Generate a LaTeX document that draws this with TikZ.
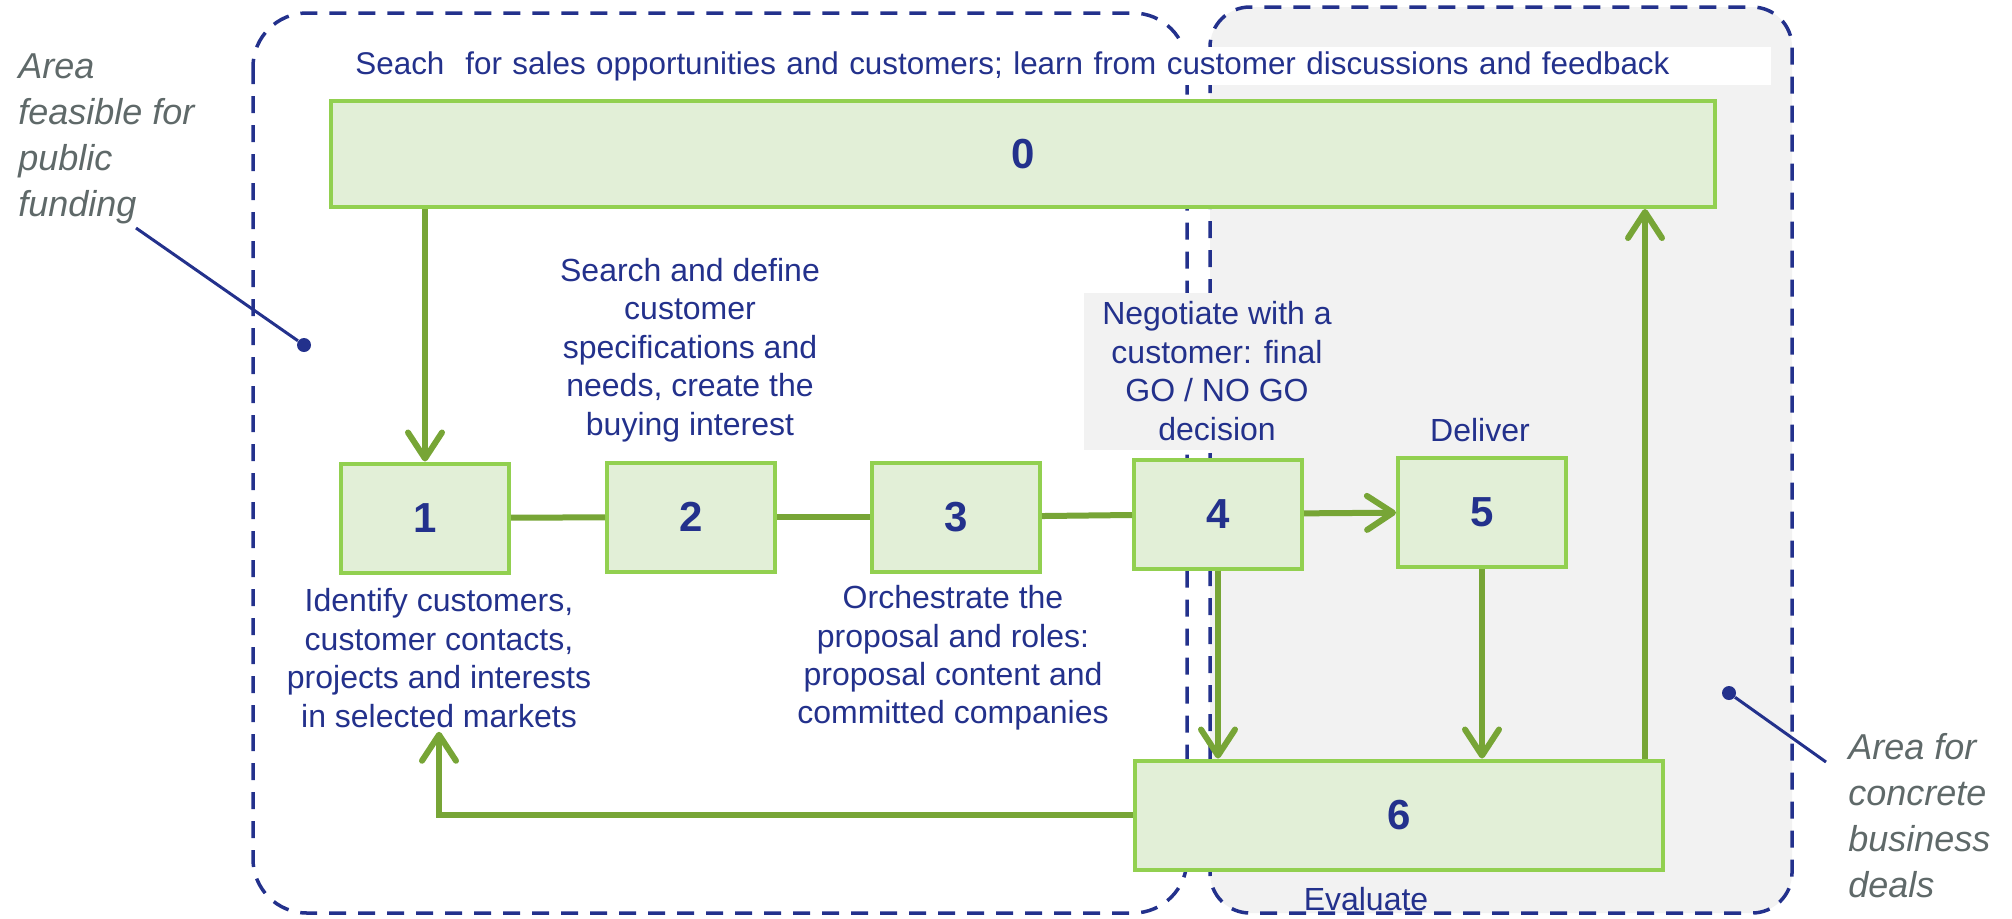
\documentclass[tikz,border=0pt]{standalone}
\usepackage{fontspec}
\setmainfont{Liberation Sans}
\usepackage{tikz}
\usetikzlibrary{arrows.meta}
\definecolor{navy}{RGB}{35,49,140}
\definecolor{flowgreen}{RGB}{119,165,54}
\definecolor{boxgreen}{RGB}{146,208,80}
\definecolor{boxfill}{RGB}{226,239,215}
\definecolor{zonegray}{RGB}{242,242,242}
\definecolor{remarkgray}{RGB}{95,105,105}
\tikzset{>={Straight Barb[length=13pt,width=17pt,round]},
    stage/.style={draw=boxgreen, fill=boxfill, line width=2pt, minimum width=84pt,
      minimum height=54.5pt, text=navy, font=\fontsize{21}{25}\selectfont\bfseries},
    flow/.style={draw=flowgreen, line width=3pt},
    zone/.style={draw=navy, line width=1.75pt, dash pattern=on 8.5pt off 6pt},
    caption/.style={text=navy, align=center, inner sep=2pt, font=\fontsize{16}{19.2}\selectfont},
    remark/.style={text=remarkgray, align=left, inner sep=0pt, font=\fontsize{18}{23}\selectfont\itshape},
    pointer/.style={draw=navy, line width=1.5pt},
    knob/.style={circle, fill=navy, inner sep=0pt, minimum size=7pt}}

\begin{document}
\begin{tikzpicture}[x=0.5pt,y=-0.5pt]
  \useasboundingbox (0,0) rectangle (2012,918);
  % the two areas
  \draw[zone, fill=zonegray, rounded corners=20pt] (1210,7) rectangle (1792,913);
  \draw[zone, rounded corners=27pt] (253,13) rectangle (1187,913);
  \node[caption, fill=white, anchor=west, align=left, text width=703pt, inner xsep=5pt,
    minimum height=19pt, font=\fontsize{15.7}{19}\selectfont] (search) at (345,66)
    {Seach\ \ for sales opportunities and customers; learn from customer discussions and feedback};
  \node[caption, fill=zonegray, minimum width=133pt, minimum height=78.5pt, inner sep=0pt]
    (nego) at (1217,371) {Negotiate with a\\customer: final\\GO / NO GO\\decision};
  % stages
  \node[stage, minimum width=692pt, minimum height=53pt] (b0) at (1023,154) {0};
  \node[stage] (b1) at (425,518) {1};
  \node[stage] (b2) at (691,517) {2};
  \node[stage] (b3) at (956,517) {3};
  \node[stage] (b4) at (1218,514) {4};
  \node[stage] (b5) at (1482,512) {5};
  \node[stage, minimum width=264pt] (b6) at (1399,815) {6};
  \node[caption] (lbl1) at (439,658) {Identify customers,\\customer contacts,\\projects and interests\\in selected markets};
  \node[caption] (lbl2) at (690,350) {Search and define\\customer\\specifications and\\needs, create the\\buying interest};
  \node[caption] (lbl3) at (953,658) {Orchestrate the\\proposal and roles:\\proposal content and\\committed companies};
  \node[caption] (lbl5) at (1480,430) {Deliver};
  \node[caption] (lbl6) at (1366,899) {Evaluate};
  % connectors
  \draw[flow,->] (b1.north |- b0.south) -- (b1.north);
  \foreach \a/\b in {b1/b2, b2/b3, b3/b4}
    \draw[flow] (\a) -- (\b);
  \draw[flow,->] (b4) -- (b5);
  \draw[flow,->] (b4.south) -- (b4.south |- b6.north);
  \draw[flow,->] (b5.south) -- (b5.south |- b6.north);
  \coordinate (up) at ([xshift=-10pt]b6.north east);
  \draw[flow,->] (up) -- (up |- b0.south);
  \draw[flow,->] (b6.west) -| (lbl1.south);
  % remarks
  \node[remark, anchor=north west] (areaL) at (18,53) {Area\\feasible for\\public\\funding};
  \node[remark, anchor=north west] (areaR) at (1848,733) {Area for\\concrete\\business\\deals};
  \coordinate (fromL) at (136,228);
  \node[knob] (dotL) at (304,345) {};
  \draw[pointer] (fromL) -- (dotL);
  \coordinate (fromR) at (1826,762);
  \node[knob] (dotR) at (1729,693) {};
  \draw[pointer] (fromR) -- (dotR);
\end{tikzpicture}
\end{document}
